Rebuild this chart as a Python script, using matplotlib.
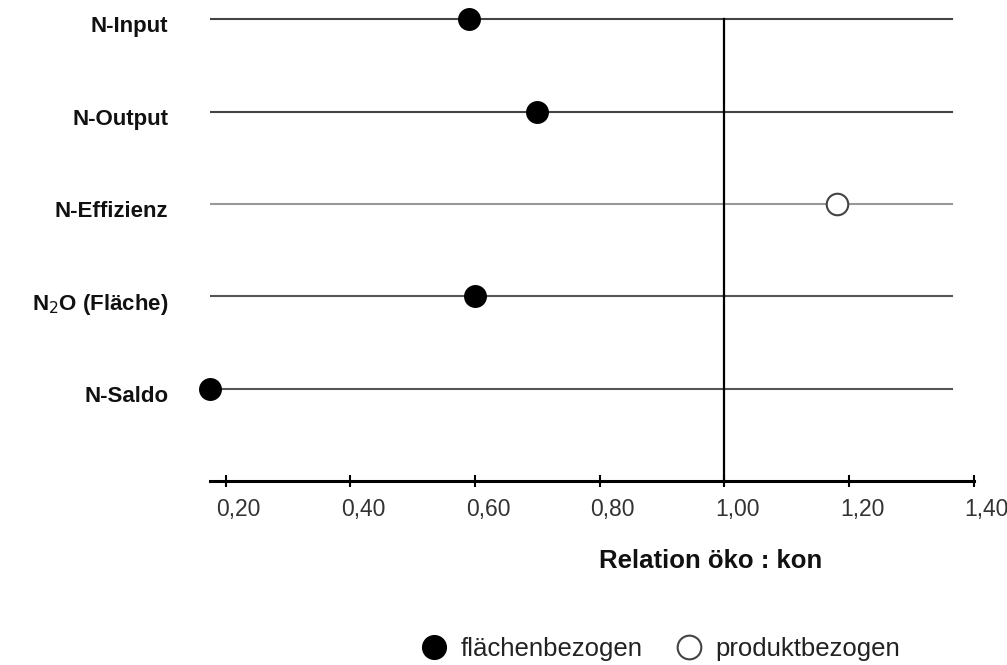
import numpy as np
from matplotlib import pyplot as plt
from matplotlib.transforms import ScaledTranslation

# categories from top to bottom
categories = ["N-Input", "N-Output", "N-Effizienz", "N$_2$O (Fläche)", "N-Saldo"]
values = [0.59, 0.70, 1.18, 0.60, 0.175]
bezug = ["fläche", "fläche", "produkt", "fläche", "fläche"]
line_colors = ["#444444", "#444444", "#999999", "#555555", "#555555"]
xticks = [0.20, 0.40, 0.60, 0.80, 1.00, 1.20, 1.40]
xlabels = ["0,20", "0,40", "0,60", "0,80", "1,00", "1,20", "1,40"]

plt.rcParams['font.family'] = ['Liberation Sans', 'DejaVu Sans']

fig = plt.figure(figsize=(10.07, 6.65), dpi=100)
ax = fig.add_axes([0.2085, 0.2767, 0.967 - 0.2085, 0.985 - 0.2767])

n = len(categories)
ypos = np.arange(n, 0, -1)
xmin, xmax = 0.175, 1.40

# horizontal guide lines per category
for y, c in zip(ypos, line_colors):
    ax.plot([xmin, 1.365], [y, y], color=c, lw=1.5, zorder=1)

# reference line at 1.0
ax.plot([1.0, 1.0], [0, n], color="black", lw=1.6, zorder=2)

vals = np.array(values)
kind = np.array(bezug)
ax.plot(vals[kind == "fläche"], ypos[kind == "fläche"], "o", ms=15.5, color="black",
        zorder=3, clip_on=False, label="flächenbezogen")
ax.plot(vals[kind == "produkt"], ypos[kind == "produkt"], "o", ms=15.5, mfc="white",
        mec="#444444", mew=1.5, zorder=3, clip_on=False, label="produktbezogen")

ax.set_xlim(xmin, xmax)
ax.set_ylim(0, 5.1)

for s in ["top", "right", "left"]:
    ax.spines[s].set_visible(False)
ax.spines["bottom"].set_linewidth(2.2)

ax.set_xticks(xticks)
ax.set_xticklabels(xlabels, fontsize=16.5, color="#333333")
ax.tick_params(axis="x", direction="inout", length=8, width=1.5, pad=8)
# tick labels sit a bit right of their ticks in the original
for lab in ax.get_xticklabels():
    lab.set_transform(lab.get_transform() + ScaledTranslation(13 / 100, 0, fig.dpi_scale_trans))

ax.set_yticks(ypos)
ax.set_yticklabels(categories, fontsize=16, fontweight="bold", color="#111111")
ax.tick_params(axis="y", length=0, pad=30)
for lab in ax.get_yticklabels():
    lab.set_transform(lab.get_transform() + ScaledTranslation(0, -5 / 100, fig.dpi_scale_trans))

fig.text(0.706, 0.156, "Relation öko : kon", fontsize=18.5, fontweight="bold",
         ha="center", va="center", color="#111111")

fig.legend(loc="center", bbox_to_anchor=(0.656, 0.024), ncol=2, frameon=False,
           fontsize=18.5, handletextpad=0.55, columnspacing=1.3, markerscale=1.1,
           handlelength=1.0, labelcolor="#222222")

fig.savefig("out.png", dpi=100)
